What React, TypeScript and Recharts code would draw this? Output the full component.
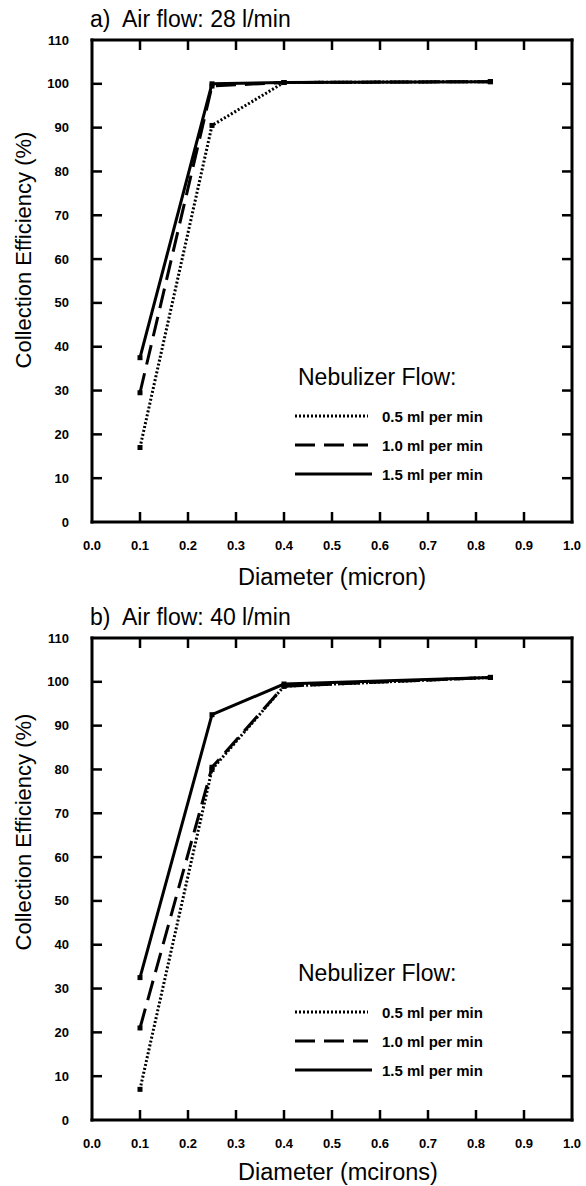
import React from 'react';
import { LineChart, Line, XAxis, YAxis, ReferenceLine, Legend, Label } from 'recharts';

// ---------- data ----------
const diameters = [0.1, 0.25, 0.4, 0.83];

const airA_05 = [17, 90.5, 100.3, 100.5];
const airA_10 = [29.5, 99.5, 100.3, 100.5];
const airA_15 = [37.5, 100, 100.3, 100.5];

const airB_05 = [7, 80, 99, 101];
const airB_10 = [21, 80.5, 99, 101];
const airB_15 = [32.5, 92.5, 99.5, 101];

const xTicks = [0, 0.1, 0.2, 0.3, 0.4, 0.5, 0.6, 0.7, 0.8, 0.9, 1.0];
const yTicks = [0, 10, 20, 30, 40, 50, 60, 70, 80, 90, 100, 110];

const seriesNames = ['0.5 ml per min', '1.0 ml per min', '1.5 ml per min'];

// ---------- styling / layout ----------
const FONT = '"Liberation Sans", Arial, Helvetica, sans-serif';
const W = 586;
const H = 594;
const PLOT_LEFT = 92;
const PLOT_RIGHT = 572;
const PLOT_TOP = 40;
const PLOT_BOTTOM = 522;
const TICK_LEN = 10;

const seriesStyles = [
  { key: 's05', dash: '2 2', width: 3 },
  { key: 's10', dash: '20 9', width: 3 },
  { key: 's15', dash: undefined as string | undefined, width: 3 },
];

const buildRows = (a: number[], b: number[], c: number[]) =>
  diameters.map((d, i) => ({ d, s05: a[i], s10: b[i], s15: c[i] }));

const SquareDot = (props: any) => {
  const { cx, cy } = props;
  if (cx == null || cy == null) return <g />;
  return <rect x={cx - 2.5} y={cy - 2.5} width={5} height={5} fill="#000" />;
};

const XTick = (props: any) => {
  const { x, payload } = props;
  const v = payload.value as number;
  const interior = v > 0.001 && v < 0.999;
  return (
    <g>
      {interior && (
        <line x1={x} x2={x} y1={PLOT_BOTTOM} y2={PLOT_BOTTOM - TICK_LEN} stroke="#000" strokeWidth={2.5} />
      )}
      {interior && (
        <line x1={x} x2={x} y1={PLOT_TOP} y2={PLOT_TOP + TICK_LEN} stroke="#000" strokeWidth={2.5} />
      )}
      <text x={x} y={PLOT_BOTTOM + 28} textAnchor="middle" fontFamily={FONT} fontWeight="bold" fontSize={13} fill="#000">
        {v.toFixed(1)}
      </text>
    </g>
  );
};

const YTick = (props: any) => {
  const { y, payload } = props;
  const v = payload.value as number;
  const interior = v > 0 && v < 110;
  return (
    <g>
      {interior && (
        <line x1={PLOT_LEFT} x2={PLOT_LEFT + TICK_LEN} y1={y} y2={y} stroke="#000" strokeWidth={2.5} />
      )}
      {interior && (
        <line x1={PLOT_RIGHT} x2={PLOT_RIGHT - TICK_LEN} y1={y} y2={y} stroke="#000" strokeWidth={2.5} />
      )}
      <text x={69} y={y + 4.5} textAnchor="end" fontFamily={FONT} fontWeight="bold" fontSize={13} fill="#000">
        {v}
      </text>
    </g>
  );
};

const LegendBox = () => (
  <svg width={240} height={125} style={{ overflow: 'visible', display: 'block' }}>
    <text x={8} y={27} fontFamily={FONT} fontSize={23} fill="#000">
      Nebulizer Flow:
    </text>
    {seriesNames.map((name, i) => {
      const ly = 58 + 29 * i;
      const st = seriesStyles[i];
      return (
        <g key={name}>
          <line x1={5} x2={i === 2 ? 82 : 78} y1={ly} y2={ly} stroke="#000" strokeWidth={st.width} strokeDasharray={st.dash} />
          <text x={92} y={ly + 5.5} fontFamily={FONT} fontWeight="bold" fontSize={15} fill="#000">
            {name}
          </text>
        </g>
      );
    })}
  </svg>
);

type PanelProps = {
  top: number;
  title: string;
  xTitle: string;
  xTitleX: number;
  xTitleY: number;
  rows: any[];
  yLabelCenter: number;
  legendTop: number;
};

const Panel = ({ top, title, xTitle, xTitleX, xTitleY, rows, yLabelCenter, legendTop }: PanelProps) => (
  <div style={{ position: 'absolute', left: 0, top, width: W, height: H }}>
    <svg width={W} height={40} style={{ position: 'absolute', left: 0, top: 0 }}>
      <text x={90} y={27} fontFamily={FONT} fontSize={23} fill="#000" style={{ whiteSpace: 'pre' }}>
        {title}
      </text>
    </svg>
    <div style={{ position: 'absolute', left: 0, top: 0 }}>
      <LineChart width={W} height={H} data={rows} margin={{ top: PLOT_TOP, right: W - PLOT_RIGHT, bottom: H - PLOT_BOTTOM - 30, left: 52 }}>
        <XAxis
          dataKey="d"
          type="number"
          domain={[0, 1]}
          ticks={xTicks}
          interval={0}
          height={30}
          tickLine={false}
          tickSize={0}
          tick={<XTick />}
          axisLine={{ stroke: '#000', strokeWidth: 3, strokeLinecap: 'square' }}
        >
          <Label
            content={() => (
              <text x={xTitleX} y={xTitleY} textAnchor="middle" fontFamily={FONT} fontSize={23.5} fill="#000">
                {xTitle}
              </text>
            )}
          />
        </XAxis>
        <YAxis
          type="number"
          domain={[0, 110]}
          ticks={yTicks}
          interval={0}
          width={40}
          tickLine={false}
          tickSize={0}
          tick={<YTick />}
          axisLine={{ stroke: '#000', strokeWidth: 3, strokeLinecap: 'square' }}
        >
          <Label
            content={() => (
              <text
                x={31}
                y={yLabelCenter}
                transform={`rotate(-90, 31, ${yLabelCenter})`}
                textAnchor="middle"
                fontFamily={FONT}
                fontSize={22}
                fill="#000"
              >
                Collection Efficiency (%)
              </text>
            )}
          />
        </YAxis>
        <ReferenceLine y={110} stroke="#000" strokeWidth={3} strokeLinecap="square" />
        <ReferenceLine x={1} stroke="#000" strokeWidth={3} strokeLinecap="square" />
        {seriesStyles.map((st, i) => (
          <Line
            key={st.key}
            dataKey={st.key}
            name={seriesNames[i]}
            type="linear"
            stroke="#000"
            strokeWidth={st.width}
            strokeDasharray={st.dash}
            dot={<SquareDot />}
            activeDot={false}
            isAnimationActive={false}
          />
        ))}
        <Legend
          layout="vertical"
          align="center"
          verticalAlign="middle"
          wrapperStyle={{ left: 290, top: legendTop, width: 240, height: 125 }}
          content={() => <LegendBox />}
        />
      </LineChart>
    </div>
  </div>
);

const rowsA = buildRows(airA_05, airA_10, airA_15);
const rowsB = buildRows(airB_05, airB_10, airB_15);

export default function App() {
  return (
    <div style={{ position: 'absolute', left: 0, top: 0, width: W, height: 1186, background: '#fff', overflow: 'hidden' }}>
      <Panel top={0} title="a)  Air flow: 28 l/min" xTitle="Diameter (micron)" xTitleX={332} xTitleY={585} rows={rowsA} yLabelCenter={250} legendTop={358} />
      <Panel top={598} title="b)  Air flow: 40 l/min" xTitle="Diameter (mcirons)" xTitleX={338} xTitleY={582} rows={rowsB} yLabelCenter={234} legendTop={356} />
    </div>
  );
}
